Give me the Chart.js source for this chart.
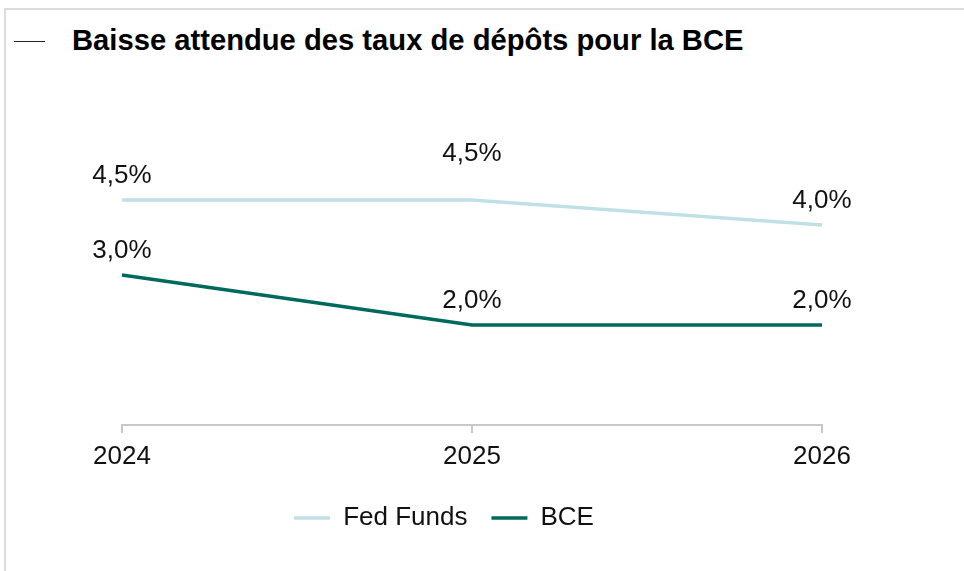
<!DOCTYPE html>
<html>
<head>
<meta charset="utf-8">
<script src="https://cdn.jsdelivr.net/npm/chart.js@4.4.1/dist/chart.umd.min.js"></script>
<style>
    html, body { margin: 0; padding: 0; background: #fff; }
    #wrap { position: relative; width: 964px; height: 571px; overflow: hidden; }
    #cadre { position: absolute; left: 4px; top: 8px; right: -10px; bottom: -10px;
             border-top: 2px solid #dcdcdc; border-left: 2px solid #dcdcdc; }
    #trait { position: absolute; left: 14px; top: 41px; width: 31px; height: 1px; background: #222; }
    #titre { position: absolute; left: 72px; top: 26px; font: bold 29.2px/29px "Liberation Sans", Arial, sans-serif;
             color: #000; white-space: nowrap; }
    #graphe { position: absolute; left: 0; top: 0; }
</style>
</head>
<body>
<div id="wrap">
    <div id="cadre"></div>
    <div id="trait"></div>
    <div id="titre">Baisse attendue des taux de dépôts pour la BCE</div>
    <canvas id="graphe" width="964" height="571"></canvas>
</div>
<script>
//données
var annees = ["2024", "2025", "2026"];
var fedFunds = [4.5, 4.5, 4.0];
var bce = [3.0, 2.0, 2.0];

//couleurs
var couleurFed = "#bfe1e6";
var couleurBce = "#00695e";

//décalage vertical en plus pour certaines étiquettes (px)
var fedLift = [0, 22, 0];
var bceLift = [0, 0, 0];

//format français : 4,5%
function formatTaux(v) {
    return v.toFixed(1).replace(".", ",") + "%";
}

//étiquettes au-dessus des points
var etiquettes = {
    id: "etiquettes",
    afterDatasetsDraw: function(chart) {
        var ctx = chart.ctx;
        ctx.save();
        ctx.font = "26px 'Liberation Sans', Arial, sans-serif";
        ctx.fillStyle = "#111";
        ctx.textAlign = "center";
        ctx.textBaseline = "middle";
        chart.data.datasets.forEach(function(ds, i) {
            var meta = chart.getDatasetMeta(i);
            meta.data.forEach(function(pt, j) {
                var lift = ds.lift ? ds.lift[j] : 0;
                ctx.fillText(formatTaux(ds.data[j]), pt.x, pt.y - 24 - lift);
            });
        });
        ctx.restore();
    }
};

//légende un peu décalée vers la gauche comme dans l'original
var decalageLegende = {
    id: "decalageLegende",
    afterLayout: function(chart) {
        chart.legend.left -= 28;
        chart.legend.right -= 28;
    }
};

new Chart(document.getElementById("graphe"), {
    type: "line",
    data: {
        labels: annees,
        datasets: [
            {
                label: "Fed Funds",
                data: fedFunds,
                lift: fedLift,
                borderColor: couleurFed,
                backgroundColor: couleurFed,
                borderWidth: 3.5,
                pointRadius: 0,
                tension: 0
            },
            {
                label: "BCE",
                data: bce,
                lift: bceLift,
                borderColor: couleurBce,
                backgroundColor: couleurBce,
                borderWidth: 3.5,
                pointRadius: 0,
                tension: 0
            }
        ]
    },
    options: {
        responsive: false,
        animation: false,
        layout: {
            padding: { left: 122, right: 142, top: 125, bottom: 30 }
        },
        scales: {
            x: {
                offset: false,
                grid: {
                    drawOnChartArea: false,
                    color: "#c8c8c8",
                    tickLength: 8,
                    lineWidth: 2
                },
                border: { color: "#c8c8c8", width: 2 },
                ticks: {
                    color: "#111",
                    padding: 9.5,
                    maxRotation: 0,
                    font: { family: "'Liberation Sans', Arial, sans-serif", size: 26, lineHeight: 1.12 }
                }
            },
            y: {
                display: false,
                min: 0,
                max: 6
            }
        },
        plugins: {
            legend: {
                position: "bottom",
                labels: {
                    usePointStyle: true,
                    pointStyle: "line",
                    pointStyleWidth: 36,
                    padding: 24,
                    color: "#111",
                    font: { family: "'Liberation Sans', Arial, sans-serif", size: 26 }
                }
            },
            tooltip: { enabled: false }
        }
    },
    plugins: [etiquettes, decalageLegende]
});
</script>
</body>
</html>
